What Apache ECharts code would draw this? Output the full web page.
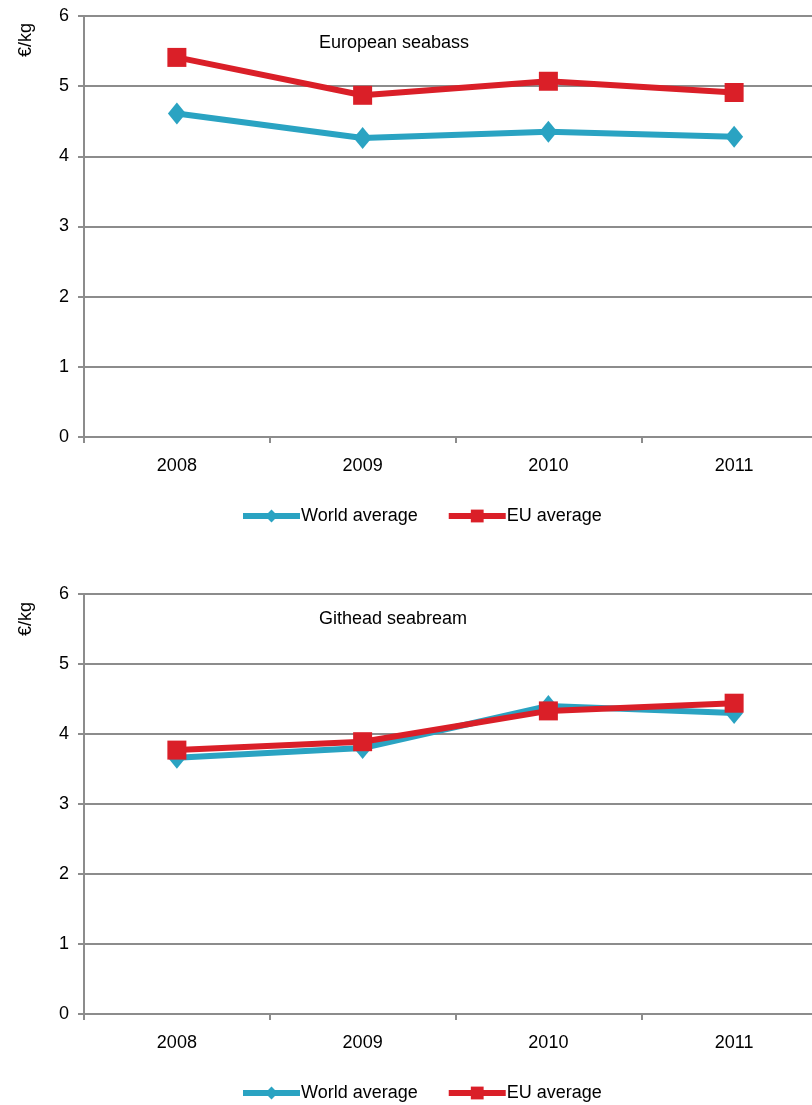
<!DOCTYPE html>
<html>
<head>
<meta charset="utf-8">
<script src="https://cdn.jsdelivr.net/npm/echarts@6/dist/echarts.min.js"></script>
<style>
html,body{margin:0;padding:0;background:#fff;overflow:hidden;width:812px;height:1105px;}
#chart{width:828px;height:1105px;}
</style>
</head>
<body>
<div id="chart"></div>
<script>
// Years on the category axis
const years = ['2008', '2009', '2010', '2011'];
// Price per kg, European seabass
const seabassWorld = [4.61, 4.26, 4.35, 4.28];
const seabassEU = [5.41, 4.87, 5.07, 4.91];
// Price per kg, Gilthead seabream
const seabreamWorld = [3.66, 3.80, 4.40, 4.30];
const seabreamEU = [3.77, 3.89, 4.33, 4.44];
// Value axis ticks
const yTicks = [0, 1, 2, 3, 4, 5, 6];

const FONT = '"Liberation Sans", Arial, sans-serif';
const FS = 18;
const TEAL = '#2AA3C2';
const RED = '#DA1F28';
const GRIDC = '#8C8C8C';

const chart = echarts.init(document.getElementById('chart'), null, {renderer: 'canvas'});

function xAxis(gridIndex) {
  return {
    type: 'category', gridIndex, data: years, boundaryGap: true,
    axisLine: {lineStyle: {color: GRIDC, width: 2}},
    axisTick: {show: true, length: 6, lineStyle: {color: GRIDC, width: 2}},
    axisLabel: {color: '#000', fontFamily: FONT, fontSize: FS, margin: 20}
  };
}
function yAxis(gridIndex) {
  return {
    type: 'value', gridIndex, min: yTicks[0], max: yTicks[yTicks.length - 1], interval: 1,
    axisLine: {show: true, lineStyle: {color: GRIDC, width: 2}},
    axisTick: {show: true, length: 6, lineStyle: {color: GRIDC, width: 2}},
    splitLine: {lineStyle: {color: GRIDC, width: 2}},
    axisLabel: {color: '#000', fontFamily: FONT, fontSize: FS, margin: 15}
  };
}
function lineSeries(name, data, idx, color, symbol, size) {
  return {
    name, type: 'line', data, xAxisIndex: idx, yAxisIndex: idx,
    symbol, symbolSize: size, showAllSymbol: true,
    lineStyle: {color, width: 6},
    itemStyle: {color},
    animation: false
  };
}
const legendBase = {
  padding: 0,
  itemWidth: 57, itemHeight: 16, itemGap: 28,
  lineStyle: {width: 6},
  textStyle: {fontFamily: FONT, fontSize: FS, color: '#000', padding: [0, 0, 0, -4]},
  data: ['World average', 'EU average']
};

chart.setOption({
  animation: false,
  grid: [
    {left: 84, top: 16, width: 743, height: 421},
    {left: 84, top: 594, width: 743, height: 420}
  ],
  xAxis: [xAxis(0), xAxis(1)],
  yAxis: [yAxis(0), yAxis(1)],
  legend: [
    Object.assign({}, legendBase, {top: 507, left: 240}),
    Object.assign({}, legendBase, {top: 1084, left: 240})
  ],
  title: [
    {text: 'European seabass', left: 314, top: 29, textStyle: {fontFamily: FONT, fontSize: FS, fontWeight: 'normal', color: '#000'}},
    {text: 'Githead seabream', left: 314, top: 605, textStyle: {fontFamily: FONT, fontSize: FS, fontWeight: 'normal', color: '#000'}}
  ],
  graphic: [
    {type: 'text', x: 26, y: 40, rotation: Math.PI / 2,
     style: {text: '€/kg', font: FS + 'px ' + FONT, fill: '#000', align: 'center', verticalAlign: 'middle'}},
    {type: 'text', x: 26, y: 619, rotation: Math.PI / 2,
     style: {text: '€/kg', font: FS + 'px ' + FONT, fill: '#000', align: 'center', verticalAlign: 'middle'}}
  ],
  series: [
    lineSeries('World average', seabassWorld, 0, TEAL, 'diamond', [18, 22]),
    lineSeries('EU average', seabassEU, 0, RED, 'rect', 19),
    lineSeries('World average', seabreamWorld, 1, TEAL, 'diamond', [18, 22]),
    lineSeries('EU average', seabreamEU, 1, RED, 'rect', 19)
  ]
});
</script>
</body>
</html>
